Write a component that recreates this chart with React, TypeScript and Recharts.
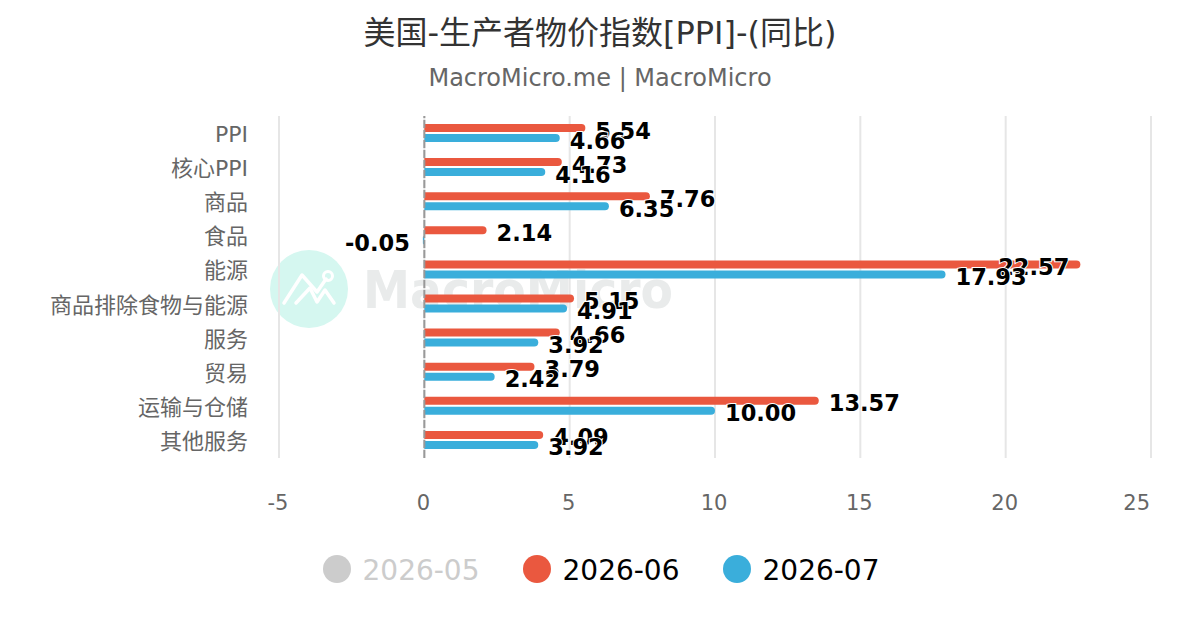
import React from "react";
import {
  BarChart,
  Bar,
  XAxis,
  YAxis,
  CartesianGrid,
  LabelList,
  ReferenceLine,
} from "recharts";

const FONT = '"DejaVu Sans", "Noto Sans CJK SC", sans-serif';

const categories = [
  "PPI",
  "核心PPI",
  "商品",
  "食品",
  "能源",
  "商品排除食物与能源",
  "服务",
  "贸易",
  "运输与仓储",
  "其他服务",
];
const june = [5.54, 4.73, 7.76, 2.14, 22.57, 5.15, 4.66, 3.79, 13.57, 4.09];
const july = [4.66, 4.16, 6.35, -0.05, 17.93, 4.91, 3.92, 2.42, 10.0, 3.92];
const xTicks = [-5, 0, 5, 10, 15, 20, 25];
const legendItems = [
  { name: "2026-05", dot: "#cccccc", text: "#cccccc" },
  { name: "2026-06", dot: "#ea583f", text: "#000000" },
  { name: "2026-07", dot: "#3aaedb", text: "#000000" },
];

const data = categories.map((name, i) => ({ name, june: june[i], july: july[i] }));

const XTick = (props: any) => {
  const { x, y, payload } = props;
  const last = payload.value === 25;
  return (
    <text
      x={x - 1}
      y={y}
      textAnchor={last ? "end" : "middle"}
      fontSize={21}
      fontFamily={FONT}
      fill="#666666"
    >
      {payload.value}
    </text>
  );
};

const YTick = (props: any) => {
  const { x, y, payload } = props;
  return (
    <text x={x} y={y + 9} textAnchor="end" fontSize={22} fontFamily={FONT} fill="#666666">
      {payload.value}
    </text>
  );
};

const ValueLabel = (props: any) => {
  const { x, y, width, height, value } = props;
  const end = x + width;
  const labelW = 72;
  let tx = end + 10;
  let anchor = "start";
  if (value < 0) {
    tx = end - 13;
    anchor = "end";
  } else if (tx + labelW > 1151) {
    tx = end - 11;
    anchor = "end";
  }
  return (
    <text
      x={tx}
      y={y + height / 2 + 10.5}
      textAnchor={anchor}
      fontSize={22.5}
      fontWeight="bold"
      fontFamily={FONT}
      fill="#000000"
      stroke="#ffffff"
      strokeWidth={2}
      style={{ paintOrder: "stroke" }}
    >
      {value.toFixed(2)}
    </text>
  );
};

const LegendRow = () => (
  <div
    style={{
      position: "absolute",
      left: 0,
      top: 554,
      width: 1200,
      display: "flex",
      justifyContent: "center",
      paddingLeft: 2,
      boxSizing: "border-box",
      fontFamily: FONT,
      fontSize: 28,
    }}
  >
    {legendItems.map((item, i) => (
      <div
        key={item.name}
        style={{ display: "flex", alignItems: "center", marginLeft: i ? 43 : 0, color: item.text }}
      >
        <span
          style={{
            width: 28,
            height: 28,
            borderRadius: 14,
            background: item.dot,
            marginRight: 12,
            marginTop: -4,
          }}
        />
        {item.name}
      </div>
    ))}
  </div>
);

const Watermark = () => (
  <svg width={1200} height={630} style={{ position: "absolute", left: 0, top: 0 }}>
    <circle cx={309} cy={289} r={39} fill="#d5f7f0" />
    <polyline
      points="284,303 302,275 317,292 326,279"
      fill="none"
      stroke="#ffffff"
      strokeWidth={3.5}
      strokeLinecap="round"
      strokeLinejoin="round"
    />
    <polyline
      points="296,303 310,288 317,302 325,290 334,303"
      fill="none"
      stroke="#ffffff"
      strokeWidth={3.5}
      strokeLinecap="round"
      strokeLinejoin="round"
    />
    <circle cx={328} cy={276} r={4.5} fill="none" stroke="#ffffff" strokeWidth={3} />
    <text
      x={363}
      y={308}
      fontSize={52}
      fontWeight="bold"
      fontFamily={FONT}
      fill="#e9ebeb"
      textLength={310}
      lengthAdjust="spacingAndGlyphs"
    >
      MacroMicro
    </text>
  </svg>
);

const App: React.FC = () => {
  return (
    <div style={{ position: "absolute", left: 0, top: 0, width: 1200, height: 630, background: "#fff" }}>
      <Watermark />
      <div
        style={{
          position: "absolute",
          left: 0,
          top: 12,
          width: 1200,
          textAlign: "center",
          fontFamily: FONT,
          fontSize: 32,
          lineHeight: "42px",
          color: "#333333",
        }}
      >
        美国-生产者物价指数[PPI]-(同比)
      </div>
      <div
        style={{
          position: "absolute",
          left: 0,
          top: 62,
          width: 1200,
          textAlign: "center",
          fontFamily: FONT,
          fontSize: 24,
          lineHeight: "32px",
          color: "#666666",
        }}
      >
        MacroMicro.me | MacroMicro
      </div>
      <div style={{ position: "absolute", left: 0, top: 0 }}>
        <BarChart
          width={1200}
          height={630}
          data={data}
          layout="vertical"
          barSize={8}
          barGap={2}
          margin={{ top: 116, right: 49, bottom: 130, left: 0 }}
        >
          <CartesianGrid horizontal={false} stroke="#e6e6e6" strokeWidth={2} />
          <XAxis
            type="number"
            domain={[-5, 25]}
            ticks={xTicks}
            axisLine={false}
            tickLine={false}
            height={42}
            tick={<XTick />}
            tickMargin={46}
            interval={0}
          />
          <YAxis
            type="category"
            dataKey="name"
            width={279}
            axisLine={false}
            tickLine={false}
            tick={<YTick />}
            tickMargin={25}
            interval={0}
            padding={{ top: 0, bottom: 1 }}
          />
          <ReferenceLine x={0} stroke="#999999" strokeWidth={2} strokeDasharray="8 2" />
          <Bar dataKey="june" name="2026-06" fill="#ea583f" radius={[0, 4, 4, 0]} isAnimationActive={false}>
            <LabelList dataKey="june" content={<ValueLabel />} />
          </Bar>
          <Bar dataKey="july" name="2026-07" fill="#3aaedb" radius={[0, 4, 4, 0]} isAnimationActive={false}>
            <LabelList dataKey="july" content={<ValueLabel />} />
          </Bar>
        </BarChart>
      </div>
      <LegendRow />
    </div>
  );
};

export default App;
